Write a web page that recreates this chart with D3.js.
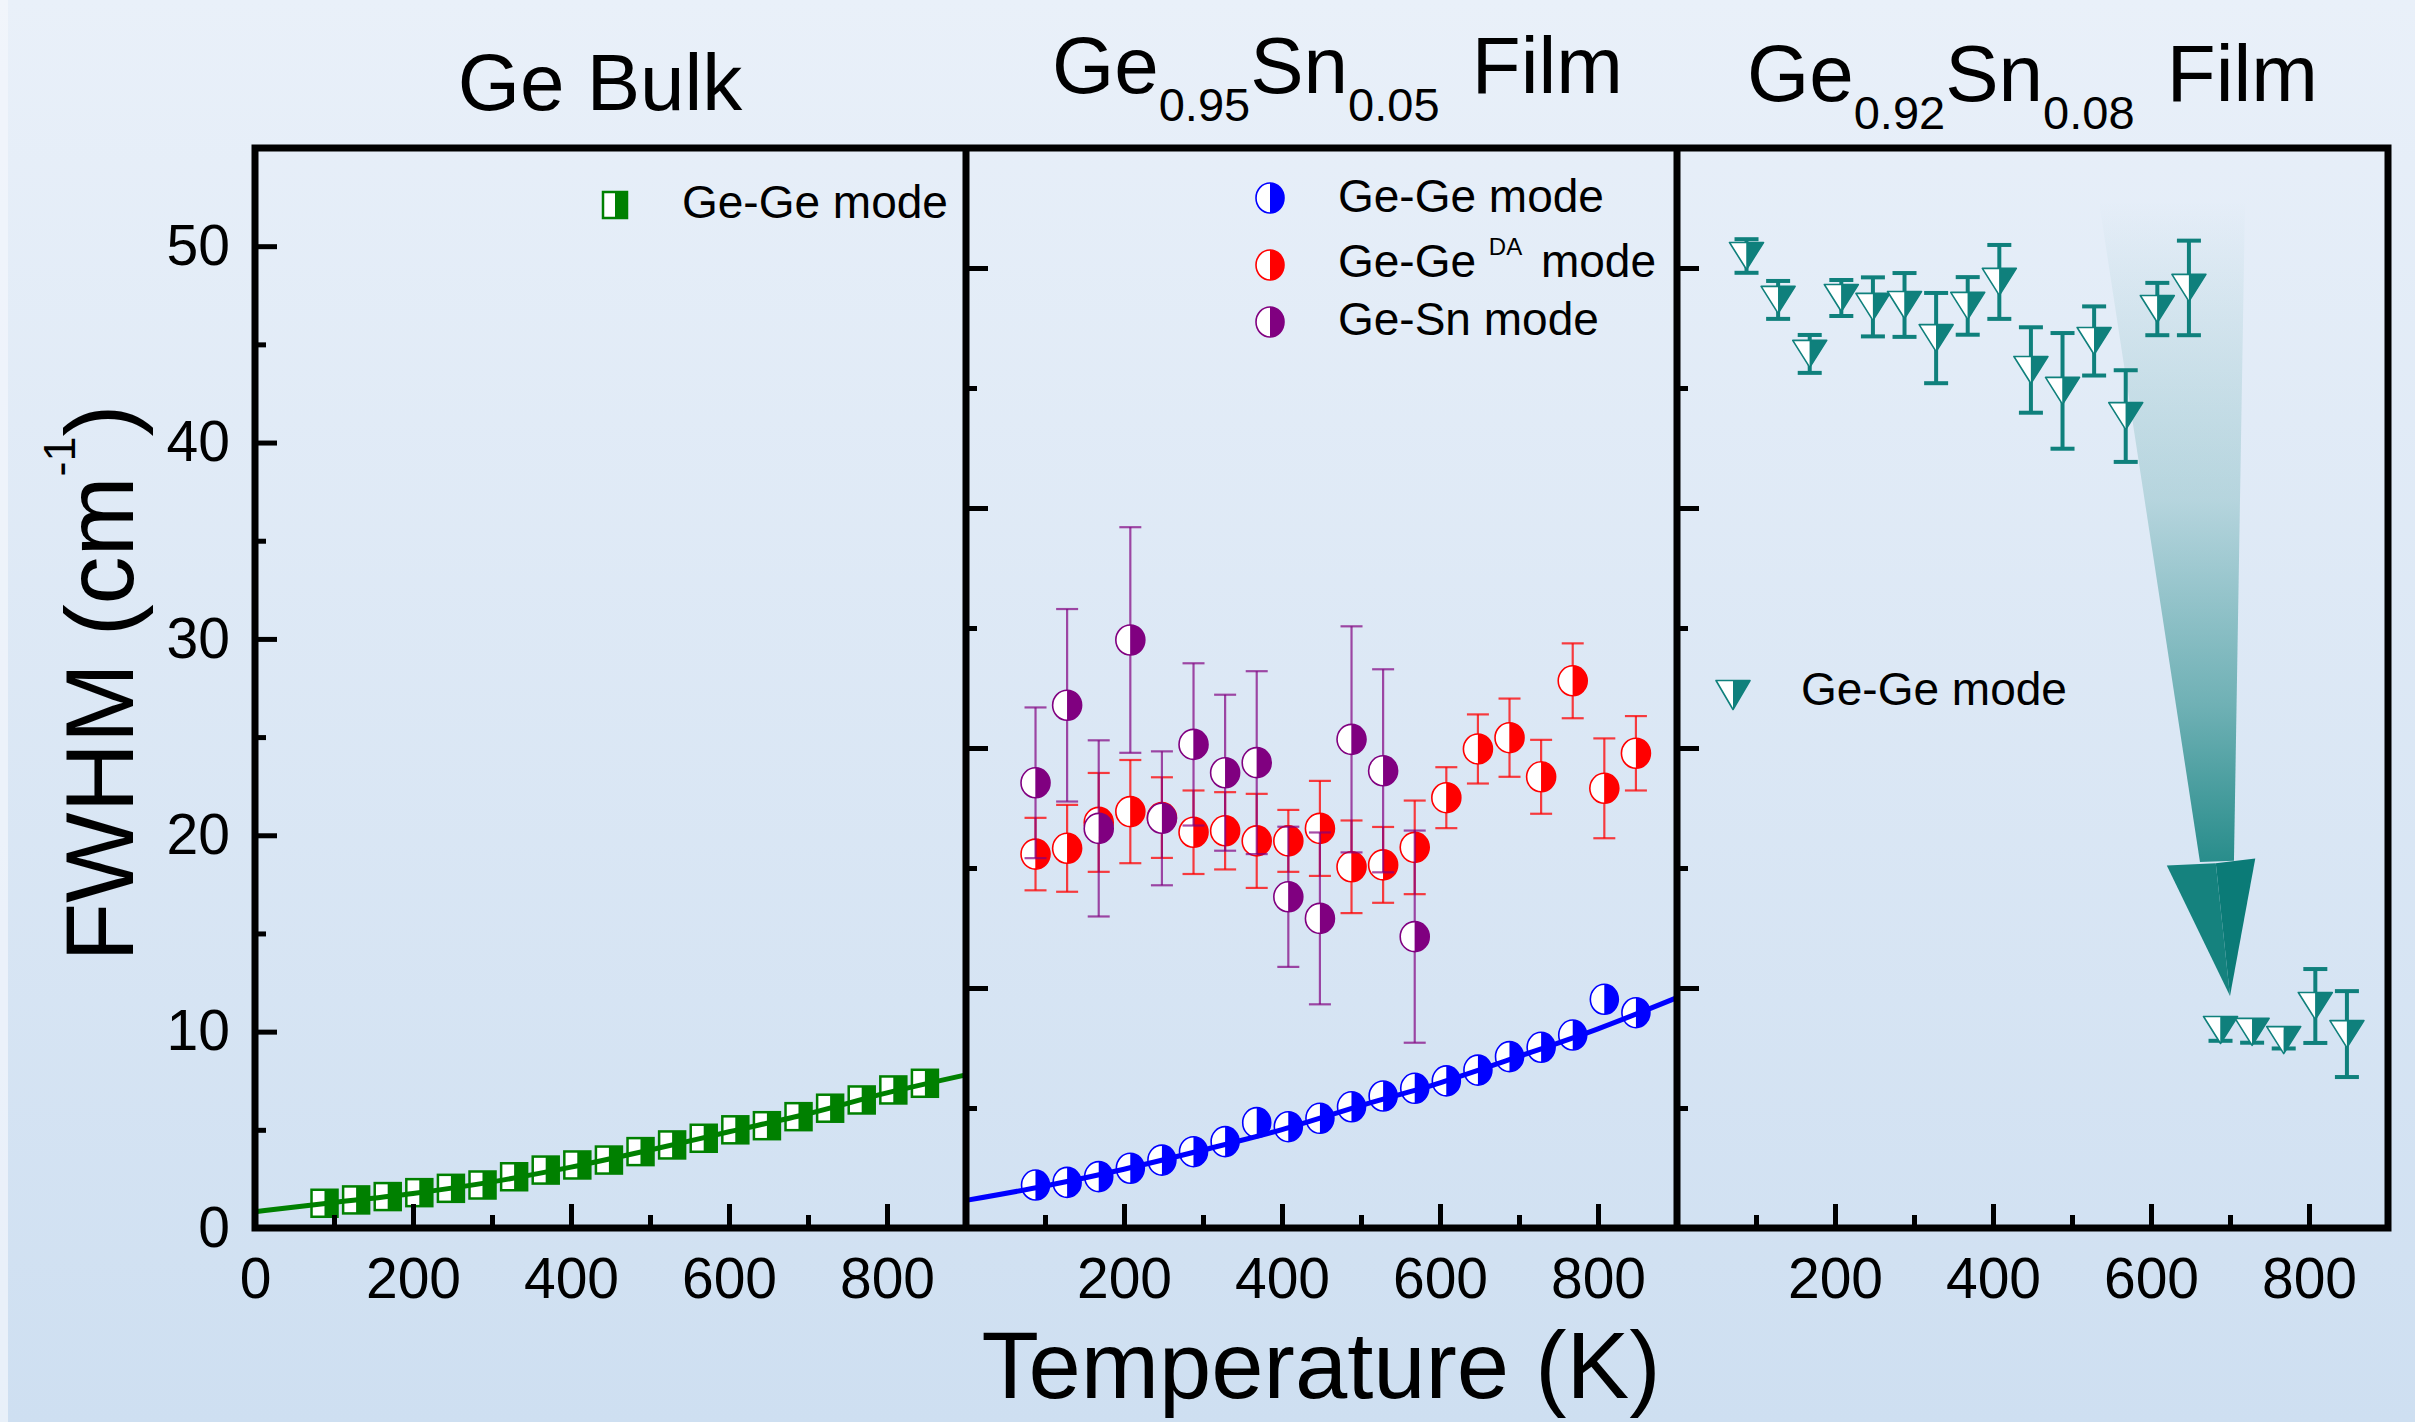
<!DOCTYPE html>
<html>
<head>
<meta charset="utf-8">
<script src="https://cdnjs.cloudflare.com/ajax/libs/d3/7.8.5/d3.min.js"></script>
<style>
  body { margin: 0; background: #dce7f4; }
  svg { display: block; font-family: "Liberation Sans", Arial, sans-serif; }
</style>
</head>
<body>
<div class="chart"></div>
<script>
var svgWidth = 2415;
var svgHeight = 1422;

// Data
// ==============================
var temps = [88, 128, 168, 208, 248, 288, 328, 368, 408, 448, 488, 528, 568, 608, 648, 688, 728, 768, 808, 848];
var gesnTemps = [88, 128, 168, 208, 248, 288, 328, 368, 408, 448, 488, 528, 568];
var fitTemps = [0, 100, 200, 300, 400, 500, 600, 700, 800, 900];

// Ge bulk, Ge-Ge mode
var bulkGeGe = [1.26, 1.43, 1.6, 1.8, 2.02, 2.19, 2.61, 2.95, 3.21, 3.46, 3.89, 4.23, 4.57, 5.0, 5.21, 5.67, 6.1, 6.52, 7.03, 7.37];
var bulkFit = [0.83, 1.3, 1.76, 2.35, 3.1, 3.97, 4.9, 5.82, 6.88, 7.8];

// Ge0.95Sn0.05 film
var film5GeGe = [1.79, 1.9, 2.14, 2.49, 2.83, 3.18, 3.6, 4.39, 4.22, 4.57, 5.05, 5.5, 5.82, 6.13, 6.58, 7.14, 7.53, 8.04, 9.53, 8.97];
var film5Fit = [1.15, 1.75, 2.45, 3.25, 4.1, 5.1, 6.05, 7.15, 8.3, 9.6];
var film5DA = [15.58, 15.82, 16.9, 17.35, 17.1, 16.49, 16.55, 16.13, 16.13, 16.65, 15.05, 15.13, 15.86, 17.93, 19.96, 20.43, 18.8, 22.8, 18.32, 19.78];
var film5DAErr = [1.51, 1.81, 2.06, 2.15, 1.68, 1.74, 1.61, 1.96, 1.29, 1.98, 1.93, 1.58, 1.95, 1.27, 1.44, 1.63, 1.54, 1.56, 2.08, 1.55];
var film5GeSn = [18.55, 21.78, 16.65, 24.5, 17.07, 20.15, 18.97, 19.39, 13.8, 12.9, 20.36, 19.05, 12.14];
var film5GeSnErr = [3.14, 4.01, 3.67, 4.7, 2.79, 3.38, 3.25, 3.81, 2.92, 3.58, 4.71, 4.23, 4.42];

// Ge0.92Sn0.08 film
var film8GeGe = [40.5, 38.67, 36.42, 38.75, 38.38, 38.46, 37.08, 38.42, 39.42, 35.75, 34.88, 36.96, 33.83, 38.29, 39.17, 8.25, 8.17, 7.83, 9.25, 8.08];
var film8GeGeErr = [0.7, 0.79, 0.79, 0.75, 1.23, 1.33, 1.88, 1.2, 1.54, 1.78, 2.41, 1.44, 1.91, 1.09, 1.97, 0.45, 0.45, 0.35, 1.54, 1.79];

// axis ticks
var xMajor = [200, 400, 600, 800];
var xMinor = [100, 300, 500, 700];
var yBulkMajor = [0, 10, 20, 30, 40, 50];
var yBulkMinor = [5, 15, 25, 35, 45];
var yFilmMajor = [10, 20, 30, 40];
var yFilmMinor = [5, 15, 25, 35];

// arrow outline in panel 3 units [T, FWHM]
var arrowShaft = [[534, 42.8], [719, 42.8], [705, 15.3], [662, 15.25]];
var arrowHeadLeft = [[620, 15.1], [682, 15.2], [700, 9.67]];
var arrowHeadRight = [[682, 15.2], [732, 15.4], [700, 9.67]];

var colors = {
  green: "#008000",
  blue: "#0000ff",
  red: "#ff0000",
  purple: "#800080",
  teal: "#0f807c"
};

// Layout
var plotTop = 148;
var plotBottom = 1228;
var panelLeft = [255, 966, 1677];
var panelWidth = 711;

var svg = d3.select(".chart")
  .append("svg")
  .attr("width", svgWidth)
  .attr("height", svgHeight);

// Background
var defs = svg.append("defs");
var bg = defs.append("linearGradient").attr("id", "bg")
  .attr("x1", 0).attr("y1", 0).attr("x2", 0).attr("y2", 1);
bg.append("stop").attr("offset", "0%").attr("stop-color", "#e9f0f9");
bg.append("stop").attr("offset", "100%").attr("stop-color", "#cedff1");
svg.append("rect").attr("width", svgWidth).attr("height", svgHeight).attr("fill", "url(#bg)");
svg.append("rect").attr("width", 8).attr("height", svgHeight).attr("fill", "#f3f7fc").attr("opacity", 0.7);

var arrowGrad = defs.append("linearGradient").attr("id", "arrowGrad")
  .attr("gradientUnits", "userSpaceOnUse")
  .attr("x1", 0).attr("y1", 200).attr("x2", 0).attr("y2", 865);
[[0, 0], [0.45, 0.2], [0.76, 0.53], [1, 0.88]].forEach(function(s) {
  arrowGrad.append("stop").attr("offset", s[0]).attr("stop-color", colors.teal).attr("stop-opacity", s[1]);
});

// Scales
var xScales = panelLeft.map(function(l) {
  return d3.scaleLinear().domain([0, 900]).range([l, l + panelWidth]);
});
var yBulk = d3.scaleLinear().domain([0, 55]).range([plotBottom, plotTop]);
var yFilm = d3.scaleLinear().domain([0, 45]).range([plotBottom, plotTop]);

function zip(xs, ys, es) {
  return xs.map(function(t, i) { return {t: t, v: ys[i], e: es ? es[i] : 0}; });
}

function drawErrorBars(g, data, x, y, color, capW, lineW, opacity) {
  var bars = g.append("g").attr("stroke", color).attr("stroke-width", lineW).attr("stroke-opacity", opacity);
  bars.selectAll(null).data(data).enter().append("line")
    .attr("x1", d => x(d.t)).attr("x2", d => x(d.t))
    .attr("y1", d => y(d.v - d.e)).attr("y2", d => y(d.v + d.e));
  bars.selectAll(null).data(data).enter().append("line")
    .attr("x1", d => x(d.t) - capW / 2).attr("x2", d => x(d.t) + capW / 2)
    .attr("y1", d => y(d.v + d.e)).attr("y2", d => y(d.v + d.e));
  bars.selectAll(null).data(data).enter().append("line")
    .attr("x1", d => x(d.t) - capW / 2).attr("x2", d => x(d.t) + capW / 2)
    .attr("y1", d => y(d.v - d.e)).attr("y2", d => y(d.v - d.e));
}

function halfCircle(sel, color, rx, ry) {
  sel.append("path").attr("d", `M0,${-ry}A${rx},${ry} 0 0 0 0,${ry}Z`).attr("fill", "#fff");
  sel.append("path").attr("d", `M0,${-ry}A${rx},${ry} 0 0 1 0,${ry}Z`).attr("fill", color);
  sel.append("ellipse").attr("rx", rx).attr("ry", ry).attr("fill", "none")
    .attr("stroke", color).attr("stroke-width", 1.6);
}

function halfSquare(sel, color, w, h) {
  sel.append("rect").attr("x", -w / 2).attr("y", -h / 2).attr("width", w / 2).attr("height", h).attr("fill", "#fff");
  sel.append("rect").attr("x", 0).attr("y", -h / 2).attr("width", w / 2).attr("height", h).attr("fill", color);
  sel.append("rect").attr("x", -w / 2).attr("y", -h / 2).attr("width", w).attr("height", h)
    .attr("fill", "none").attr("stroke", color).attr("stroke-width", 2.5);
}

function halfTriangle(sel, color, w, h) {
  sel.append("path").attr("d", `M${-w / 2},${-h / 2}L0,${-h / 2}L0,${h / 2}Z`).attr("fill", "#fff");
  sel.append("path").attr("d", `M0,${-h / 2}L${w / 2},${-h / 2}L0,${h / 2}Z`).attr("fill", color);
  sel.append("path").attr("d", `M${-w / 2},${-h / 2}L${w / 2},${-h / 2}L0,${h / 2}Z`)
    .attr("fill", "none").attr("stroke", color).attr("stroke-width", 1.6).attr("stroke-linejoin", "round");
}

function drawMarkers(g, data, x, y, shapeFn) {
  g.selectAll(null).data(data).enter().append("g")
    .attr("transform", d => `translate(${x(d.t)},${y(d.v)})`)
    .each(function() { shapeFn(d3.select(this)); });
}

var fitLine = function(x, y) {
  return d3.line().x(d => x(d.t)).y(d => y(d.v)).curve(d3.curveMonotoneX);
};

// Panel 1: Ge bulk
// ==============================
var p1 = svg.append("g");
drawMarkers(p1, zip(temps, bulkGeGe), xScales[0], yBulk, s => halfSquare(s, colors.green, 26, 27));
p1.append("path").datum(zip(fitTemps, bulkFit))
  .attr("d", fitLine(xScales[0], yBulk))
  .attr("fill", "none").attr("stroke", colors.green).attr("stroke-width", 5);

// Panel 2: Ge0.95Sn0.05
// ==============================
var p2 = svg.append("g");
drawErrorBars(p2, zip(temps, film5DA, film5DAErr), xScales[1], yFilm, colors.red, 22, 2.2, 0.75);
drawMarkers(p2, zip(temps, film5DA), xScales[1], yFilm, s => halfCircle(s, colors.red, 14.5, 15));
drawErrorBars(p2, zip(gesnTemps, film5GeSn, film5GeSnErr), xScales[1], yFilm, colors.purple, 22, 2.2, 0.7);
drawMarkers(p2, zip(gesnTemps, film5GeSn), xScales[1], yFilm, s => halfCircle(s, colors.purple, 14.5, 15));
drawMarkers(p2, zip(temps, film5GeGe), xScales[1], yFilm, s => halfCircle(s, colors.blue, 14, 15));
p2.append("path").datum(zip(fitTemps, film5Fit))
  .attr("d", fitLine(xScales[1], yFilm))
  .attr("fill", "none").attr("stroke", colors.blue).attr("stroke-width", 5);

// Panel 3: Ge0.92Sn0.08
// ==============================
var p3 = svg.append("g");
var toXY = d => [xScales[2](d[0]), yFilm(d[1])];
p3.append("path").attr("d", d3.line()(arrowShaft.map(toXY)) + "Z").attr("fill", "url(#arrowGrad)");
p3.append("path").attr("d", d3.line()(arrowHeadLeft.map(toXY)) + "Z").attr("fill", "#15827e");
p3.append("path").attr("d", d3.line()(arrowHeadRight.map(toXY)) + "Z").attr("fill", "#0b7b77");
drawErrorBars(p3, zip(temps, film8GeGe, film8GeGeErr), xScales[2], yFilm, colors.teal, 24, 4, 1);
drawMarkers(p3, zip(temps, film8GeGe), xScales[2], yFilm, s => halfTriangle(s, colors.teal, 34, 27));

// Axes
// ==============================
function styleAxis(g) {
  g.select(".domain").remove();
  g.selectAll("line").attr("stroke", "#000").attr("stroke-width", 5);
  g.selectAll("text").attr("font-family", "Liberation Sans, Arial, sans-serif")
    .attr("font-size", 57).attr("fill", "#000");
}

xScales.forEach(function(x, i) {
  var majors = i === 0 ? [0].concat(xMajor) : xMajor;
  svg.append("g").attr("transform", `translate(0,${plotBottom})`)
    .call(d3.axisBottom(x).tickValues(majors).tickSize(-24).tickPadding(30).tickFormat(d3.format("d")))
    .call(styleAxis);
  svg.append("g").attr("transform", `translate(0,${plotBottom})`)
    .call(d3.axisBottom(x).tickValues(xMinor).tickSize(-13).tickFormat(""))
    .call(styleAxis);

  var y = i === 0 ? yBulk : yFilm;
  var yMaj = i === 0 ? yBulkMajor : yFilmMajor;
  var yMin = i === 0 ? yBulkMinor : yFilmMinor;
  var left = svg.append("g").attr("transform", `translate(${panelLeft[i]},0)`);
  left.append("g")
    .call(d3.axisLeft(y).tickValues(yMaj).tickSize(-22).tickPadding(25)
      .tickFormat(i === 0 ? d3.format("d") : ""))
    .call(styleAxis);
  left.append("g")
    .call(d3.axisLeft(y).tickValues(yMin).tickSize(-11).tickFormat(""))
    .call(styleAxis);
});

// frame
var frame = svg.append("g").attr("fill", "none").attr("stroke", "#000").attr("stroke-width", 7);
frame.append("rect")
  .attr("x", panelLeft[0]).attr("y", plotTop)
  .attr("width", panelLeft[2] + panelWidth - panelLeft[0]).attr("height", plotBottom - plotTop);
frame.selectAll(null).data(panelLeft.slice(1)).enter().append("line")
  .attr("x1", d => d).attr("x2", d => d).attr("y1", plotTop).attr("y2", plotBottom);

// Titles
// ==============================
svg.append("text").attr("x", 600).attr("y", 110).attr("text-anchor", "middle")
  .attr("font-size", 80).text("Ge Bulk");

function formulaTitle(x, y, ge, sn) {
  var t = svg.append("text").attr("x", x).attr("y", y).attr("font-size", 80);
  t.append("tspan").text("Ge");
  t.append("tspan").attr("font-size", 47).attr("dy", 28).text(ge);
  t.append("tspan").attr("dy", -28).text("Sn");
  t.append("tspan").attr("font-size", 47).attr("dy", 28).text(sn);
  t.append("tspan").attr("dy", -28).attr("dx", 10).text(" Film");
}
formulaTitle(1052, 93, "0.95", "0.05");
formulaTitle(1747, 101, "0.92", "0.08");

// axis titles
var yTitle = svg.append("text")
  .attr("transform", "translate(133,683) rotate(-90)")
  .attr("text-anchor", "middle").attr("font-size", 96);
yTitle.append("tspan").text("FWHM (cm");
yTitle.append("tspan").attr("font-size", 45).attr("dy", -58).text("-1");
yTitle.append("tspan").attr("dy", 58).text(")");

svg.append("text").attr("x", 1321).attr("y", 1398).attr("text-anchor", "middle")
  .attr("font-size", 94).text("Temperature (K)");

// Legends
// ==============================
var legendFont = 46;
var lg1 = svg.append("g");
lg1.append("g").attr("transform", "translate(615,205)").call(s => halfSquare(s, colors.green, 24, 26));
lg1.append("text").attr("x", 682).attr("y", 218).attr("font-size", legendFont).text("Ge-Ge mode");

var lg2 = svg.append("g");
lg2.append("g").attr("transform", "translate(1270,198)").call(s => halfCircle(s, colors.blue, 14, 15));
lg2.append("g").attr("transform", "translate(1270,265)").call(s => halfCircle(s, colors.red, 14, 15));
lg2.append("g").attr("transform", "translate(1270,322)").call(s => halfCircle(s, colors.purple, 14, 15));
lg2.append("text").attr("x", 1338).attr("y", 212).attr("font-size", legendFont).text("Ge-Ge mode");
var daText = lg2.append("text").attr("x", 1338).attr("y", 277).attr("font-size", legendFont);
daText.append("tspan").text("Ge-Ge ");
daText.append("tspan").attr("font-size", 24).attr("dy", -22).text("DA");
daText.append("tspan").attr("dy", 22).attr("dx", 6).text(" mode");
lg2.append("text").attr("x", 1338).attr("y", 335).attr("font-size", legendFont).text("Ge-Sn mode");

var lg3 = svg.append("g");
lg3.append("g").attr("transform", "translate(1733,695)").call(s => halfTriangle(s, colors.teal, 34, 29));
lg3.append("text").attr("x", 1801).attr("y", 705).attr("font-size", legendFont).text("Ge-Ge mode");
</script>
</body>
</html>
